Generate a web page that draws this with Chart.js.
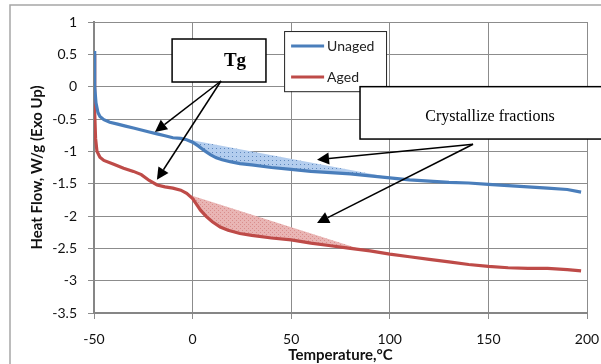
<!DOCTYPE html>
<html lang="en">
<head>
    <meta charset="UTF-8">
    <title>DSC Heat Flow</title>
    <script src="https://cdn.jsdelivr.net/npm/chart.js"></script>
    <style>
        body { margin: 0; background: #fff; }
    </style>
</head>
<body>
    <canvas id="myChart" width="601" height="364"></canvas>

    <script>
        // temperature (°C) and heat flow (W/g)
        const unagedTemp = [-50, -49.8, -49.5, -49, -48, -47, -45, -42, -38, -34, -30, -26, -22, -18, -14, -10, -6, -3, 0, 3, 6, 9, 12, 15, 19, 24, 30, 40, 50, 60, 70, 80, 90, 100, 110, 120, 130, 140, 150, 160, 170, 180, 190, 197];
        const unagedFlow = [0.55, 0.35, 0.0, -0.25, -0.4, -0.46, -0.51, -0.55, -0.58, -0.61, -0.64, -0.67, -0.7, -0.73, -0.76, -0.79, -0.8, -0.82, -0.86, -0.92, -0.99, -1.05, -1.1, -1.13, -1.16, -1.19, -1.21, -1.25, -1.28, -1.31, -1.33, -1.35, -1.38, -1.41, -1.44, -1.46, -1.48, -1.49, -1.51, -1.53, -1.55, -1.57, -1.59, -1.63];

        const agedTemp = [-50, -49.8, -49.5, -49.2, -48.5, -47, -45, -40, -35, -30, -26, -22, -18, -14, -10, -6, -3, 0, 2, 4, 7, 10, 14, 18, 24, 30, 40, 50, 60, 70, 80, 90, 100, 110, 120, 130, 140, 150, 160, 170, 180, 190, 197];
        const agedFlow = [0.5, 0.1, -0.4, -0.8, -1.0, -1.09, -1.14, -1.2, -1.26, -1.31, -1.36, -1.45, -1.52, -1.55, -1.57, -1.6, -1.65, -1.73, -1.82, -1.91, -2.01, -2.09, -2.17, -2.22, -2.27, -2.3, -2.34, -2.37, -2.42, -2.46, -2.5, -2.54, -2.59, -2.63, -2.67, -2.71, -2.75, -2.78, -2.8, -2.81, -2.81, -2.83, -2.85];

        // straight edges of the shaded crystallization areas
        const unagedShadeTemp = [-5, 103];
        const unagedShadeFlow = [-0.80, -1.42];
        const agedShadeTemp = [-1, 86];
        const agedShadeFlow = [-1.68, -2.52];

        const xTicks = [-50, 0, 50, 100, 150, 200];
        const yTicks = [1, 0.5, 0, -0.5, -1, -1.5, -2, -2.5, -3, -3.5];

        const seriesNames = ['Unaged', 'Aged'];
        const blue = '#4a7ebb';
        const red = '#be4b48';

        function toPoints(xs, ys) {
            return xs.map((x, i) => ({ x: x, y: ys[i] }));
        }

        // small repeating fills like the Excel pattern shading
        function makePattern(base, dot, cross) {
            const c = document.createElement('canvas');
            c.width = 4; c.height = 4;
            const g = c.getContext('2d');
            g.fillStyle = base;
            g.fillRect(0, 0, 4, 4);
            g.fillStyle = dot;
            g.fillRect(0, 0, 1, 1);
            if (cross) {
                g.fillRect(2, 2, 1, 1);
            }
            return g.createPattern(c, 'repeat');
        }
        const blueFill = makePattern('#b3cdee', '#5f88bd', false);
        const redFill = makePattern('#e9b5b4', '#d98d8b', true);

        // annotations in data units: boxes, labels and arrows
        const tgBox = { x1: -10.4, x2: 37.2, y1: 0.737, y2: 0.072, text: 'Tg', tx: 21.5, ty: 0.40 };
        const crystBox = { x1: 84.9, x2: 215, y1: 0.0, y2: -0.81, text: 'Crystallize fractions', tx: 150.8, ty: -0.46 };
        const tgArrows = { from: [14.4, 0.088], to: [[-19.1, -0.70], [-18.1, -1.44]] };
        const crystArrows = { from: [142.2, -0.89], to: [[63.1, -1.13], [63.1, -2.11]] };
        const legendBox = { x1: 46.4, x2: 98.1, y1: 0.86, y2: -0.07 };

        const chartFrame = {
            id: 'chartFrame',
            beforeDraw(chart) {
                const c = chart.ctx;
                c.save();
                c.fillStyle = '#fff';
                c.fillRect(0, 0, chart.width, chart.height);
                c.strokeStyle = '#a6a6a6';
                c.lineWidth = 1.5;
                c.beginPath();
                c.moveTo(10, chart.height);
                c.lineTo(10, 5);
                c.lineTo(chart.width, 5);
                c.stroke();
                c.restore();
            }
        };

        function arrow(c, x0, y0, x1, y1) {
            const ang = Math.atan2(y1 - y0, x1 - x0);
            const len = 12, half = 6;
            const bx = x1 - len * Math.cos(ang), by = y1 - len * Math.sin(ang);
            c.beginPath();
            c.moveTo(x0, y0);
            c.lineTo(bx, by);
            c.stroke();
            c.beginPath();
            c.moveTo(x1, y1);
            c.lineTo(bx + half * Math.sin(ang), by - half * Math.cos(ang));
            c.lineTo(bx - half * Math.sin(ang), by + half * Math.cos(ang));
            c.closePath();
            c.fill();
        }

        const notes = {
            id: 'notes',
            afterDraw(chart) {
                const c = chart.ctx;
                const xs = chart.scales.x, ys = chart.scales.y;
                const px = v => xs.getPixelForValue(v);
                const py = v => ys.getPixelForValue(v);
                c.save();

                // legend
                const lx = px(legendBox.x1), ly = py(legendBox.y1);
                c.fillStyle = '#fff';
                c.fillRect(lx, ly, px(legendBox.x2) - lx, py(legendBox.y2) - ly);
                c.strokeStyle = '#222';
                c.lineWidth = 1;
                c.strokeRect(lx + 0.5, ly + 0.5, px(legendBox.x2) - lx, py(legendBox.y2) - ly);
                c.font = '14px Lato';
                c.textBaseline = 'middle';
                [blue, red].forEach((col, i) => {
                    const yy = ly + 15 + i * 31;
                    c.strokeStyle = col;
                    c.lineWidth = 3;
                    c.beginPath();
                    c.moveTo(lx + 7, yy);
                    c.lineTo(lx + 40, yy);
                    c.stroke();
                    c.fillStyle = '#222';
                    c.fillText(seriesNames[i], lx + 43, yy);
                });

                // boxes
                [tgBox, crystBox].forEach((b, i) => {
                    const x1 = px(b.x1), y1 = py(b.y1);
                    const w = px(b.x2) - x1, h = py(b.y2) - y1;
                    c.fillStyle = '#fff';
                    c.fillRect(x1, y1, w, h);
                    c.strokeStyle = '#000';
                    c.lineWidth = 1.5;
                    c.strokeRect(x1, y1, w, h);
                    c.fillStyle = '#000';
                    c.textAlign = 'center';
                    c.textBaseline = 'middle';
                    c.font = i === 0 ? 'bold 19px "Liberation Serif"' : '16px "Liberation Serif"';
                    c.fillText(b.text, px(b.tx), py(b.ty));
                });

                // arrows
                c.strokeStyle = '#000';
                c.fillStyle = '#000';
                c.lineWidth = 1.5;
                [tgArrows, crystArrows].forEach(a => {
                    a.to.forEach(t => {
                        arrow(c, px(a.from[0]), py(a.from[1]), px(t[0]), py(t[1]));
                    });
                });
                c.restore();
            }
        };

        const ctx = document.getElementById('myChart').getContext('2d');
        const myChart = new Chart(ctx, {
            type: 'scatter',
            data: {
                datasets: [{
                    label: seriesNames[0],
                    data: toPoints(unagedTemp, unagedFlow),
                    borderColor: blue,
                    backgroundColor: blue,
                    borderWidth: 3.2,
                    showLine: true,
                    pointRadius: 0,
                    order: 1
                }, {
                    label: seriesNames[1],
                    data: toPoints(agedTemp, agedFlow),
                    borderColor: red,
                    backgroundColor: red,
                    borderWidth: 3.2,
                    showLine: true,
                    pointRadius: 0,
                    order: 1
                }, {
                    label: 'shade1',
                    data: toPoints(unagedShadeTemp, unagedShadeFlow),
                    borderWidth: 0,
                    borderColor: 'rgba(0,0,0,0)',
                    backgroundColor: blueFill,
                    showLine: true,
                    pointRadius: 0,
                    fill: 0,
                    order: 2
                }, {
                    label: 'shade2',
                    data: toPoints(agedShadeTemp, agedShadeFlow),
                    borderWidth: 0,
                    borderColor: 'rgba(0,0,0,0)',
                    backgroundColor: redFill,
                    showLine: true,
                    pointRadius: 0,
                    fill: 1,
                    order: 2
                }]
            },
            options: {
                responsive: false,
                animation: false,
                events: [],
                layout: { padding: { left: 0, right: 14, top: 22, bottom: 0 } },
                plugins: {
                    legend: { display: false },
                    tooltip: { enabled: false }
                },
                scales: {
                    x: {
                        type: 'linear',
                        min: -50,
                        max: 200,
                        afterBuildTicks: s => { s.ticks = xTicks.map(v => ({ value: v })); },
                        afterFit: s => {
                            s.height = 51;
                            s.paddingLeft = 0;
                            s.paddingRight = 0;
                        },
                        grid: { color: '#8c8c8c', tickLength: 6 },
                        border: { color: '#868686', width: 2 },
                        ticks: {
                            color: '#111',
                            font: { family: 'Lato', size: 14 },
                            padding: 12,
                            maxRotation: 0,
                            callback: v => String(v)
                        },
                        title: {
                            display: true,
                            text: 'Temperature,°C',
                            color: '#111',
                            font: { family: 'Lato', size: 15, weight: 'bold' },
                            padding: { top: 0, bottom: 0 }
                        }
                    },
                    y: {
                        min: -3.5,
                        max: 1,
                        afterBuildTicks: s => { s.ticks = yTicks.map(v => ({ value: v })); },
                        afterFit: s => { s.width = 94; },
                        grid: { color: '#8c8c8c', tickLength: 6 },
                        border: { color: '#868686', width: 2 },
                        ticks: {
                            color: '#111',
                            font: { family: 'Lato', size: 14 },
                            padding: 11,
                            callback: v => String(v)
                        },
                        title: {
                            display: true,
                            text: 'Heat Flow, W/g (Exo Up)',
                            color: '#111',
                            font: { family: 'Lato', size: 15, weight: 'bold' },
                            padding: { top: 28, bottom: 0 }
                        }
                    }
                }
            },
            plugins: [chartFrame, notes]
        });
    </script>
</body>
</html>
